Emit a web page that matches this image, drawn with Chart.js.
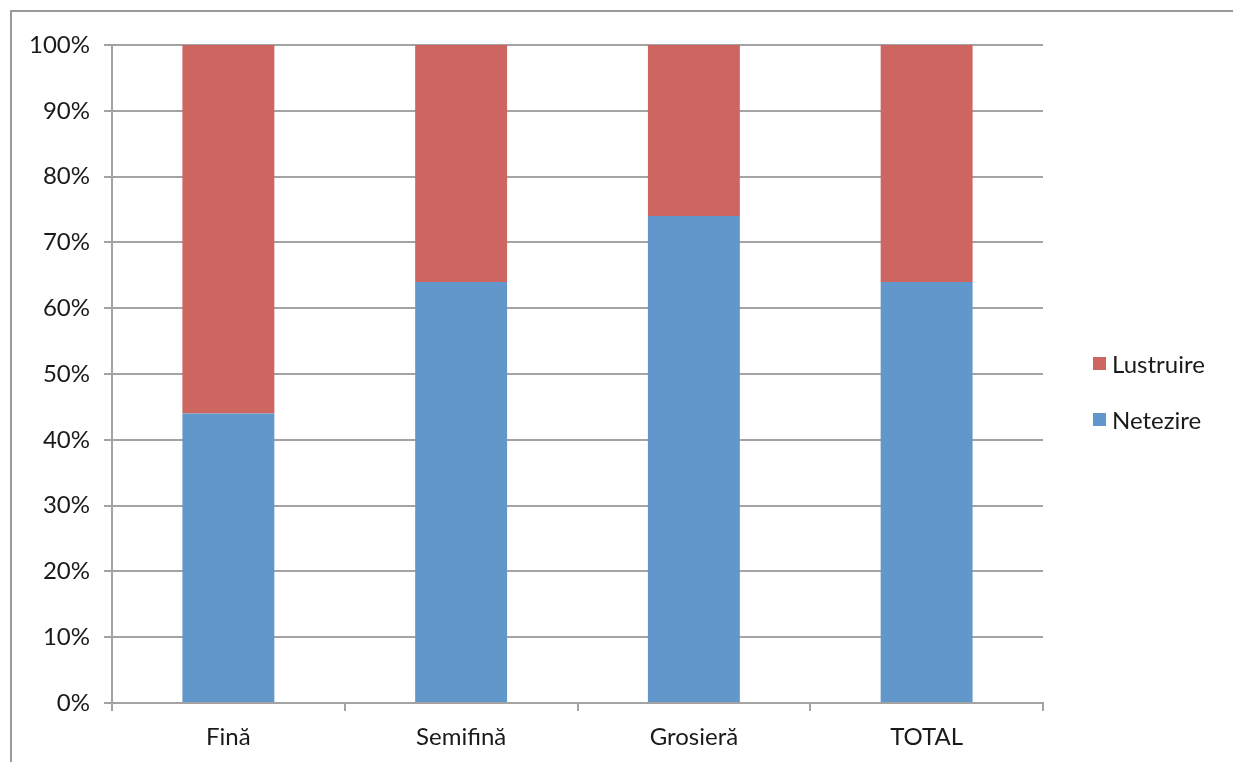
<!DOCTYPE html>
<html>
<head>
<meta charset="utf-8">
<script src="https://cdn.jsdelivr.net/npm/chart.js@4"></script>
<style>
  html, body { margin: 0; padding: 0; background: #fff; }
  #wrap { position: relative; width: 1233px; height: 762px; overflow: hidden; }
  #frame { position: absolute; left: 10px; top: 10px; width: 1240px; height: 800px; border: 2px solid #999; box-sizing: border-box; }
  canvas { position: absolute; left: 0; top: 0; }
  .legend { position: absolute; left: 1093px; font: 24px Lato, sans-serif; color: #1a1a1a; }
  .legend div { height: 56px; display: flex; align-items: center; }
  .legend span { display: inline-block; width: 13px; height: 13px; margin-right: 6px; }
</style>
</head>
<body>
<div id="wrap">
  <div id="frame"></div>
  <canvas id="c" width="1233" height="762"></canvas>
  <div class="legend" id="legend" style="top:335px"></div>
</div>
<script>
const categories = ['Fină', 'Semifină', 'Grosieră', 'TOTAL'];
const netezire = [44, 64, 74, 64];
const lustruire = [56, 36, 26, 36];
const yTicks = [0, 10, 20, 30, 40, 50, 60, 70, 80, 90, 100];

const COLORS = { red: '#CD6560', blue: '#6197CA', grid: '#a3a3a3' };
const FONT = { family: 'Lato, sans-serif', size: 24 };

const datasets = [
  { label: 'Netezire', data: netezire, backgroundColor: COLORS.blue },
  { label: 'Lustruire', data: lustruire, backgroundColor: COLORS.red },
];

// legend drawn in html, top entry is the last series (like the original)
document.getElementById('legend').innerHTML = [...datasets].reverse().map(d =>
  `<div><span style="background:${d.backgroundColor}"></span>${d.label}</div>`
).join('');

new Chart(document.getElementById('c'), {
  type: 'bar',
  data: {
    labels: categories,
    datasets: datasets.map(d => ({ ...d, barPercentage: 0.395, categoryPercentage: 1 }))
  },
  options: {
    responsive: false,
    animation: false,
    layout: { padding: { top: 45, right: 190, left: 0, bottom: 0 } },
    plugins: { legend: { display: false }, tooltip: { enabled: false } },
    scales: {
      x: {
        stacked: true,
        afterFit: (s) => { s.height = 59; },
        border: { color: COLORS.grid, width: 2 },
        grid: { offset: true, drawOnChartArea: false, drawTicks: true, tickLength: 8, color: COLORS.grid, lineWidth: 2 },
        ticks: { color: '#1a1a1a', font: FONT, padding: 12 }
      },
      y: {
        stacked: true,
        min: 0,
        max: 100,
        afterFit: (s) => { s.width = 112; },
        afterBuildTicks: (s) => { s.ticks = yTicks.map(v => ({ value: v })); },
        border: { color: COLORS.grid, width: 2 },
        grid: { color: COLORS.grid, lineWidth: 2, tickLength: 8 },
        ticks: { color: '#1a1a1a', font: FONT, padding: 14, callback: v => v + '%' }
      }
    }
  }
});
</script>
</body>
</html>
